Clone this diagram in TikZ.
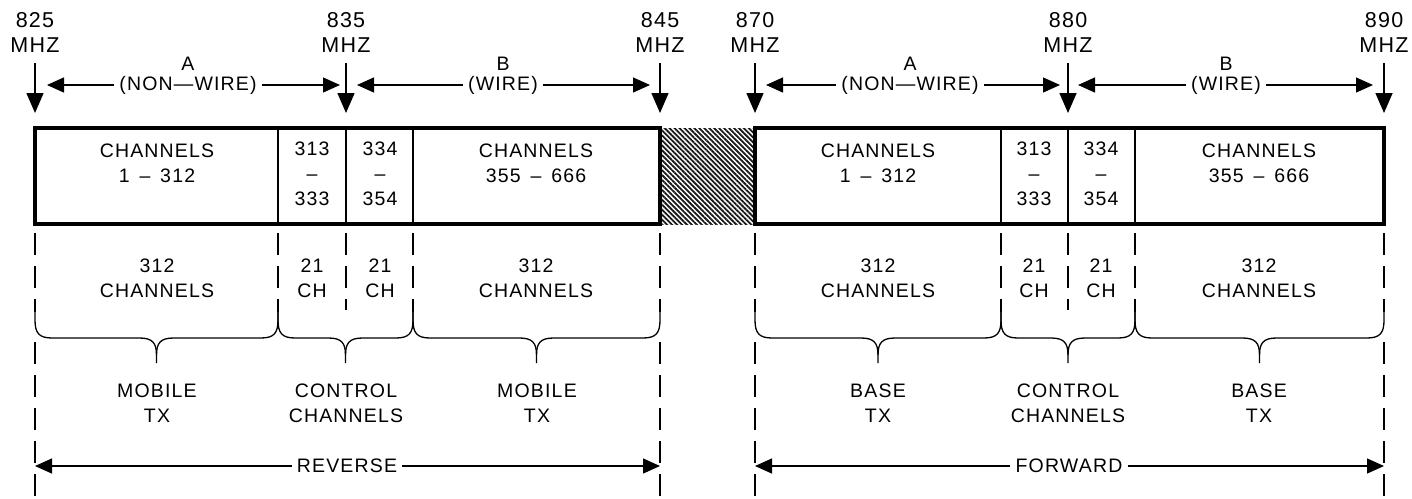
\documentclass[tikz,border=0pt]{standalone}
\usepackage{fontspec}
\setmainfont{Liberation Sans}[LetterSpace=6]
\usetikzlibrary{arrows.meta,patterns.meta}
\tikzset{
  lbl/.style={font=\fontsize{19.5}{25}\selectfont, align=center, inner sep=0pt},
  freqlbl/.style={lbl, font=\fontsize{21.5}{25}\selectfont},
  gaplbl/.style={lbl, inner xsep=5pt},
  outline/.style={line width=3.6pt, line join=miter},
  divider/.style={line width=1.3pt},
  guide/.style={line width=1.3pt, dash pattern=on 22pt off 11pt},
  brc/.style={line width=1.3pt},
  freqarrow/.style={line width=1.5pt, -{Triangle[length=20pt,width=17pt]}},
  dimarrow/.style={line width=1.2pt, -{Triangle[length=17pt,width=15pt]}},
}
\newcommand\mybrace[2]{%
  \pgfmathsetmacro\bm{(#1+#2)/2}%
  \draw[brc] (#1,312) -- (#1,320) .. controls (#1,333) and (#1+4,338) .. (#1+17,338)
     -- (\bm-17,338) .. controls (\bm-4,338) and (\bm,343) .. (\bm,355) -- (\bm,363);
  \draw[brc] (#2,312) -- (#2,320) .. controls (#2,333) and (#2-4,338) .. (#2-17,338)
     -- (\bm+17,338) .. controls (\bm+4,338) and (\bm,343) .. (\bm,355);
}
\begin{document}
\begin{tikzpicture}[x=1pt,y=-1pt]
\useasboundingbox (0,0) rectangle (1412,498);

% ---------- frequency markers ----------
\foreach \nm/\xx/\tx in {n825/35/825, n835/346/835, n845/660/845, n870/755/870, n880/1068/880, n890/1384/890}{
  \node[freqlbl] (\nm) at (\xx,32) {\tx\\MHZ};
  \coordinate (\nm t) at (\xx,63);
  \coordinate (\nm b) at (\xx,113);
  \draw[freqarrow] (\nm t) -- (\nm b);
}

% ---------- band labels ----------
\node[lbl] (lA) at (188,64) {A};
\node[gaplbl] (lAnw) at (188,85) {(NON—WIRE)};
\coordinate (lAl) at (47,85); \coordinate (lAr) at (340,85);
\draw[dimarrow] (lAnw.west) -- (lAl);
\draw[dimarrow] (lAnw.east) -- (lAr);

\node[lbl] (lB) at (503,64) {B};
\node[gaplbl] (lBw) at (503,85) {(WIRE)};
\coordinate (lBl) at (357,85); \coordinate (lBr) at (650,85);
\draw[dimarrow] (lBw.west) -- (lBl);
\draw[dimarrow] (lBw.east) -- (lBr);

\node[lbl] (rA) at (910,64) {A};
\node[gaplbl] (rAnw) at (910,85) {(NON—WIRE)};
\coordinate (rAl) at (766,85); \coordinate (rAr) at (1060,85);
\draw[dimarrow] (rAnw.west) -- (rAl);
\draw[dimarrow] (rAnw.east) -- (rAr);

\node[lbl] (rB) at (1226,64) {B};
\node[gaplbl] (rBw) at (1226,85) {(WIRE)};
\coordinate (rBl) at (1078,85); \coordinate (rBr) at (1373,85);
\draw[dimarrow] (rBw.west) -- (rBl);
\draw[dimarrow] (rBw.east) -- (rBr);

% ---------- guard band (hatched) ----------
\fill[pattern={Lines[angle=-45,distance=3.5pt,line width=1.8pt]}, pattern color=black!90] (660,128) rectangle (755,224);

% ---------- channel boxes ----------
\draw[divider] (278,128) -- (278,224);
\draw[divider] (346,128) -- (346,224);
\draw[divider] (413,128) -- (413,224);
\draw[divider] (1001,128) -- (1001,224);
\draw[divider] (1068,128) -- (1068,224);
\draw[divider] (1135,128) -- (1135,224);
\draw[outline] (35,128) rectangle (660,224);
\draw[outline] (755,128) rectangle (1384,224);

\node[lbl] (c1) at (157,163) {CHANNELS\\1\, – \,312};
\node[lbl] (c2) at (312,174) {313\\–\\333};
\node[lbl] (c3) at (380,174) {334\\–\\354};
\node[lbl] (c4) at (536,163) {CHANNELS\\355\, – \,666};
\node[lbl] (d1) at (878,163) {CHANNELS\\1\, – \,312};
\node[lbl] (d2) at (1034,174) {313\\–\\333};
\node[lbl] (d3) at (1101,174) {334\\–\\354};
\node[lbl] (d4) at (1259,163) {CHANNELS\\355\, – \,666};

% ---------- guide lines ----------
\foreach \xx in {35,278,413,660,755,1001,1135,1384}{
  \draw[guide] (\xx,233) -- (\xx,312);
}
\draw[guide] (346,233) -- (346,310);
\draw[guide] (1068,233) -- (1068,310);
\foreach \xx in {35,660,755,1384}{
  \draw[guide] (\xx,342) -- (\xx,498);
}

\node[lbl] (e1) at (157,278) {312\\CHANNELS};
\node[lbl] (e2) at (312,278) {21\\CH};
\node[lbl] (e3) at (380,278) {21\\CH};
\node[lbl] (e4) at (536,278) {312\\CHANNELS};
\node[lbl] (f1) at (878,278) {312\\CHANNELS};
\node[lbl] (f2) at (1034,278) {21\\CH};
\node[lbl] (f3) at (1101,278) {21\\CH};
\node[lbl] (f4) at (1259,278) {312\\CHANNELS};

% ---------- braces ----------
\mybrace{35}{278}
\mybrace{278}{413}
\mybrace{413}{660}
\mybrace{755}{1001}
\mybrace{1001}{1135}
\mybrace{1135}{1384}

\node[lbl] (g1) at (157,403) {MOBILE\\TX};
\node[lbl] (g2) at (346,403) {CONTROL\\CHANNELS};
\node[lbl] (g3) at (537,403) {MOBILE\\TX};
\node[lbl] (h1) at (878,403) {BASE\\TX};
\node[lbl] (h2) at (1068,403) {CONTROL\\CHANNELS};
\node[lbl] (h3) at (1259,403) {BASE\\TX};

% ---------- direction arrows ----------
\node[gaplbl] (rev) at (347,466) {REVERSE};
\coordinate (revl) at (35,466); \coordinate (revr) at (660,466);
\draw[dimarrow] (rev.west) -- (revl);
\draw[dimarrow] (rev.east) -- (revr);

\node[gaplbl] (fwd) at (1069,466) {FORWARD};
\coordinate (fwdl) at (755,466); \coordinate (fwdr) at (1384,466);
\draw[dimarrow] (fwd.west) -- (fwdl);
\draw[dimarrow] (fwd.east) -- (fwdr);
\end{tikzpicture}
\end{document}
